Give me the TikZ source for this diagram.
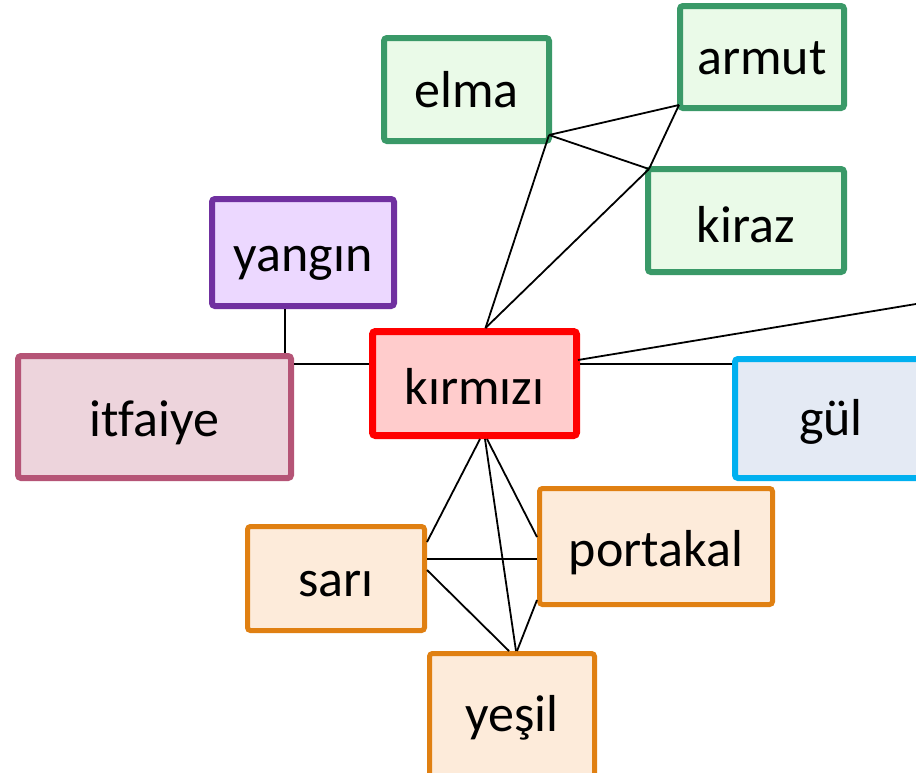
\documentclass[tikz,border=0pt]{standalone}
\usepackage{fontspec}
\setmainfont[Ligatures={NoCommon}]{Carlito}
\usetikzlibrary{calc}
\definecolor{grB}{RGB}{58,153,104}
\definecolor{grF}{RGB}{234,250,232}
\definecolor{puB}{RGB}{112,48,160}
\definecolor{puF}{RGB}{236,216,255}
\definecolor{itB}{RGB}{181,84,118}
\definecolor{itF}{RGB}{237,212,220}
\definecolor{reB}{RGB}{255,0,0}
\definecolor{reF}{RGB}{255,204,204}
\definecolor{blB}{RGB}{0,176,240}
\definecolor{blF}{RGB}{228,234,244}
\definecolor{orB}{RGB}{224,128,18}
\definecolor{orF}{RGB}{253,235,218}
\newcommand{\lowr}[2]{\raisebox{-#1pt}[\height][\depth]{#2}}
\begin{document}
\begin{tikzpicture}[x=1pt,y=-1pt,
  wbox/.style={draw,rectangle,rounded corners=3pt,inner sep=0pt,line width=6pt,
    font=\fontsize{52}{62}\selectfont,text=black},
  green/.style={wbox,draw=grB,fill=grF},
  purp/.style={wbox,draw=puB,fill=puF},
  itf/.style={wbox,draw=itB,fill=itF},
  redb/.style={wbox,draw=reB,fill=reF,line width=7pt},
  blue/.style={wbox,draw=blB,fill=blF},
  oran/.style={wbox,draw=orB,fill=orF,line width=5pt},
  conn/.style={draw=black,line width=1.8pt}]
\useasboundingbox (0,0) rectangle (916,772);
\clip (0,0) rectangle (916,772);
\fill[white] (0,0) rectangle (916,772);

% nodes
\node[green,minimum width=165pt,minimum height=103pt] (elma) at (466.5,89.5) {elma};
\node[green,minimum width=164pt,minimum height=102pt] (armut) at (762,57) {\lowr{1}{armut}};
\node[green,minimum width=196pt,minimum height=103pt] (kiraz) at (746,220.5) {\lowr{4}{kiraz}};
\node[purp,minimum width=182pt,minimum height=107pt] (yangin) at (303,252.5) {\lowr{11}{yangın}};
\node[itf,minimum width=273pt,minimum height=122pt] (itfaiye) at (154.5,417) {\lowr{6}{itfaiye}};
\node[redb,minimum width=204pt,minimum height=104pt] (kirmizi) at (474.5,383.5) {\lowr{3}{kırmızı}};
\node[blue,minimum width=192pt,minimum height=119pt] (gul) at (831,418.5) {\lowr{3}{gül}};
\node[oran,minimum width=233pt,minimum height=116pt] (portakal) at (656,546.5) {\lowr{6}{portakal}};
\node[oran,minimum width=177pt,minimum height=104pt] (sari) at (336,578.5) {\lowr{6}{sarı}};
\node[oran,minimum width=165pt,minimum height=123pt] (yesil) at (512,715) {\lowr{3}{yeşil}};

% connection points
\coordinate (kt) at ($(kirmizi.north)+(11,0)$);
\coordinate (ec) at ($(elma.south east)+(-3,-9)$);
\coordinate (ac) at ($(armut.south west)+(2,-6)$);
\coordinate (kc) at ($(kiraz.north west)+(4,3)$);
\coordinate (kr1) at ($(kirmizi.east)+(-2,-23.5)$);
\coordinate (far) at (922,303);
\coordinate (kr2) at ($(kirmizi.east)+(0,-19.5)$);
\coordinate (kl) at ($(kirmizi.west)+(0,-19.5)$);
\coordinate (ys) at ($(yangin.south)+(-18,0)$);
\coordinate (kb1) at ($(kirmizi.south)+(5.5,0)$);
\coordinate (kb2) at ($(kirmizi.south)+(10.5,0)$);
\coordinate (kb3) at ($(kirmizi.south)+(12.5,0)$);
\coordinate (s1) at ($(sari.east)+(0,-36.5)$);
\coordinate (s2) at ($(sari.east)+(0,-19.5)$);
\coordinate (s3) at ($(sari.east)+(0,-8.5)$);
\coordinate (p1) at ($(portakal.west)+(0,-9.5)$);
\coordinate (p3) at ($(portakal.west)+(0,53.5)$);
\coordinate (y1) at ($(yesil.north)+(4,0)$);
\coordinate (y2) at ($(yesil.north)+(-3,0)$);
\coordinate (y3) at ($(yesil.north)+(5,0)$);

% connectors
\draw[conn] (kt) -- (ec);
\draw[conn] (kt) -- (kc);
\draw[conn] (ec) -- (ac);
\draw[conn] (ec) -- (kc);
\draw[conn] (kc) -- (ac);
\draw[conn] (kr1) -- (far);
\draw[conn] (kr2) -- (kr2 -| gul.west);
\draw[conn] (kl) -- (kl -| itfaiye.east);
\draw[conn] (ys) -- (ys |- itfaiye.north);
\draw[conn] (kb1) -- (s1);
\draw[conn] (kb2) -- (y1);
\draw[conn] (kb3) -- (p1);
\draw[conn] (s2) -- (s2 -| portakal.west);
\draw[conn] (s3) -- (y2);
\draw[conn] (p3) -- (y3);
\end{tikzpicture}
\end{document}
